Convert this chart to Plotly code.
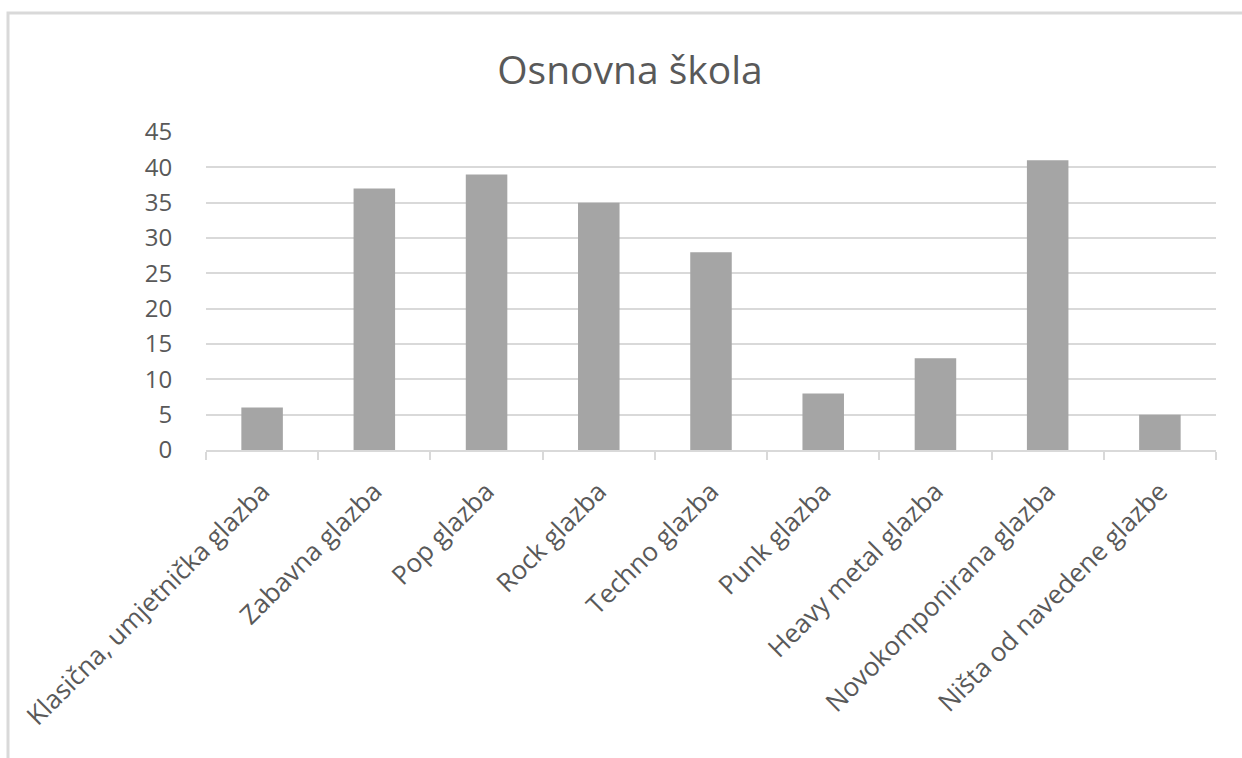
import plotly.graph_objects as go

categories = ["Klasična, umjetnička glazba", "Zabavna glazba", "Pop glazba", "Rock glazba",
              "Techno glazba", "Punk glazba", "Heavy metal glazba", "Novokomponirana glazba",
              "Ništa od navedene glazbe"]
values = [6, 37, 39, 35, 28, 8, 13, 41, 5]
y_ticks = [0, 5, 10, 15, 20, 25, 30, 35, 40, 45]

GREY_TXT = "#595959"
GRID = "#D9D9D9"
FONT = "Open Sans"

fig = go.Figure(go.Bar(x=categories, y=values, marker_color="#A5A5A5", marker_line_width=0))

L, R, T, B = 206, 26, 132, 308
W, H = 1242, 758
pw, ph = W - L - R, H - T - B

fig.update_layout(
    width=W, height=H,
    margin=dict(l=L, r=R, t=T, b=B, pad=0),
    paper_bgcolor="white", plot_bgcolor="white",
    bargap=0.63,
    showlegend=False,
    font=dict(family=FONT, color=GREY_TXT, size=22),
    title=dict(text="Osnovna škola", x=0.5 + 9 / W, xanchor="center", y=1 - 70 / H, yanchor="middle",
               font=dict(family=FONT, size=39, color=GREY_TXT)),
    xaxis=dict(tickangle=-45, ticks="outside", tickson="boundaries", ticklen=8,
               tickcolor=GRID, tickwidth=2, showline=True, linecolor=GRID, linewidth=2,
               showgrid=False, tickfont=dict(size=26, color=GREY_TXT), ticklabelstandoff=14),
    yaxis=dict(range=[0, 45], tickvals=y_ticks, showgrid=True, gridcolor=GRID, gridwidth=2,
               zeroline=False, showline=False, ticks="outside", ticklen=28,
               tickcolor="rgba(0,0,0,0)", tickfont=dict(size=24, color=GREY_TXT)),
)

# outer chart frame (clipped on right and bottom as in the reference)
x0 = (8 - L) / pw
y1 = (H - B - 13) / ph
fig.add_shape(type="rect", xref="paper", yref="paper", x0=x0, x1=1.5, y0=-3, y1=y1,
              line=dict(color=GRID, width=3), fillcolor="rgba(0,0,0,0)", layer="below")

fig.write_html("out.html", config={"displayModeBar": False},
               post_script="document.body.style.margin='0';document.body.style.overflow='hidden';")
